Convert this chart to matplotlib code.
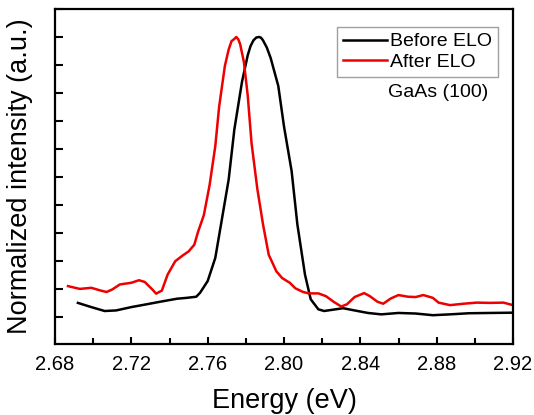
import matplotlib
matplotlib.use("Agg")
import matplotlib.pyplot as plt
from matplotlib.ticker import MultipleLocator

plt.rcParams['font.family'] = ['Liberation Sans', 'DejaVu Sans']

before_x = [2.692, 2.699, 2.706, 2.712, 2.720, 2.728, 2.735, 2.744, 2.749, 2.754,
            2.756, 2.760, 2.764, 2.767, 2.771, 2.774, 2.778, 2.781, 2.7825, 2.784,
            2.7855, 2.787, 2.788, 2.789, 2.791, 2.793, 2.797, 2.800, 2.804, 2.807,
            2.811, 2.814, 2.818, 2.821, 2.826, 2.831, 2.837, 2.844, 2.851, 2.860,
            2.869, 2.878, 2.887, 2.897, 2.908, 2.920]
before_y = [0.049, 0.034, 0.020, 0.022, 0.034, 0.044, 0.053, 0.064, 0.067, 0.071,
            0.085, 0.127, 0.210, 0.330, 0.490, 0.670, 0.840, 0.935, 0.968, 0.988,
            0.998, 1.000, 0.997, 0.988, 0.962, 0.925, 0.825, 0.680, 0.520, 0.330,
            0.150, 0.062, 0.026, 0.020, 0.025, 0.030, 0.022, 0.013, 0.008, 0.013,
            0.011, 0.005, 0.008, 0.012, 0.013, 0.014]

after_x = [2.6868, 2.693, 2.699, 2.704, 2.707, 2.710, 2.714, 2.720, 2.724, 2.727,
           2.731, 2.733, 2.736, 2.739, 2.743, 2.747, 2.750, 2.753, 2.755, 2.758,
           2.761, 2.764, 2.766, 2.769, 2.771, 2.7725, 2.774, 2.775, 2.776, 2.777,
           2.779, 2.781, 2.783, 2.786, 2.789, 2.792, 2.796, 2.799, 2.803, 2.806,
           2.810, 2.813, 2.818, 2.822, 2.826, 2.830, 2.833, 2.837, 2.842, 2.845,
           2.849, 2.852, 2.856, 2.860, 2.865, 2.869, 2.873, 2.878, 2.881, 2.887,
           2.894, 2.901, 2.908, 2.915, 2.920]
after_y = [0.109, 0.099, 0.103, 0.093, 0.088, 0.097, 0.115, 0.121, 0.130, 0.124,
           0.097, 0.082, 0.093, 0.150, 0.198, 0.219, 0.233, 0.257, 0.304, 0.363,
           0.470, 0.610, 0.750, 0.896, 0.955, 0.985, 0.993, 1.000, 0.992, 0.975,
           0.910, 0.790, 0.620, 0.458, 0.330, 0.221, 0.162, 0.138, 0.121, 0.101,
           0.088, 0.083, 0.083, 0.073, 0.053, 0.036, 0.044, 0.070, 0.084, 0.073,
           0.053, 0.046, 0.065, 0.077, 0.071, 0.070, 0.077, 0.067, 0.050, 0.041,
           0.046, 0.050, 0.049, 0.050, 0.041]

x_ticks = [2.68, 2.72, 2.76, 2.80, 2.84, 2.88, 2.92]
x_tick_labels = ["2.68", "2.72", "2.76", "2.80", "2.84", "2.88", "2.92"]

fig = plt.figure(figsize=(5.34, 4.15), dpi=100)
ax = fig.add_axes([55/534, 1 - 344/415, (513-55)/534, (344-9)/415])

ax.plot(before_x, before_y, color='black', lw=1.8, label='Before ELO')
ax.plot(after_x, after_y, color='#ee0000', lw=1.8, label='After ELO')

ax.set_xlim(2.68, 2.92)
ax.set_ylim(-0.098, 1.10)
ax.set_xticks(x_ticks)
ax.set_xticklabels(x_tick_labels)
ax.xaxis.set_minor_locator(MultipleLocator(0.02))
ax.yaxis.set_major_locator(MultipleLocator(0.1))
ax.set_yticklabels([])
ax.tick_params(axis='both', which='both', direction='in', width=1.5, top=False, right=False)
ax.tick_params(axis='x', which='major', length=5, labelsize=14.5, pad=8)
ax.tick_params(axis='x', which='minor', length=4)
ax.tick_params(axis='y', which='major', length=6)
for s in ax.spines.values():
    s.set_linewidth(1.6)

ax.set_xlabel('Energy (eV)', fontsize=19.5, labelpad=10)
ax.set_ylabel('Normalized intensity (a.u.)', fontsize=19.5, labelpad=12)

leg = ax.legend(loc='upper right', bbox_to_anchor=((498-55)/458, (344-27)/335),
                borderaxespad=0, fontsize=14, frameon=True, fancybox=False,
                edgecolor='#888888', handlelength=2.3, handletextpad=0.15,
                borderpad=0.3, labelspacing=0.15)
leg.get_frame().set_linewidth(1.0)

ax.text((388-55)/458, (344-92)/335, 'GaAs (100)', transform=ax.transAxes,
        fontsize=14, ha='left', va='center')

fig.savefig('out.png', dpi=100)
